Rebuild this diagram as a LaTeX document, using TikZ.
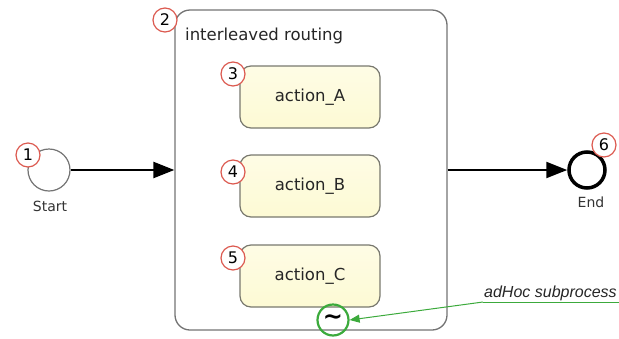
\documentclass[tikz,border=0pt]{standalone}
\usepackage{fontspec}
\setmainfont{DejaVu Sans}
\newfontfamily\arialish{Liberation Sans}
\usetikzlibrary{arrows.meta}
\definecolor{badgered}{RGB}{220,90,80}
\definecolor{boxfill}{RGB}{253,250,212}
\definecolor{boxedge}{RGB}{120,120,110}
\definecolor{subedge}{RGB}{115,115,115}
\definecolor{adgreen}{RGB}{60,170,60}
\tikzset{
  badge/.style={circle, draw=badgered, line width=1.2pt, fill=white, minimum size=24pt, inner sep=0pt, font=\fontsize{16}{16}\selectfont},
  task/.style={rounded corners=11pt, draw=boxedge, line width=1.2pt, top color=boxfill!60!white, bottom color=boxfill, minimum width=140pt, minimum height=62pt, font=\fontsize{16.5}{16.5}\selectfont, text=black!85},
  flow/.style={line width=2.3pt, -{Triangle[length=21pt,width=16pt]}},
  lbl/.style={font=\fontsize{14}{14}\selectfont, text=black!80},
}
\begin{document}
\begin{tikzpicture}[x=1pt,y=-1pt]
\useasboundingbox (0,0) rectangle (619,338);
% subprocess
\node[draw=subedge, line width=1.3pt, rounded corners=15pt, minimum width=272pt, minimum height=320pt, inner sep=0pt] (sub) at (311,170) {};
\node[anchor=west, inner sep=0pt, font=\fontsize{16.5}{16.5}\selectfont, text=black!85] (subl) at (185,36) {interleaved routing};
% start and end
\node[circle, draw=black!55, line width=1.2pt, minimum size=42pt, inner sep=0pt] (start) at (49,170) {};
\node[lbl] (startl) at (50,206) {Start};
\node[circle, draw=black, line width=3.5pt, minimum size=36pt, inner sep=0pt] (end) at (587,170) {};
\node[lbl] (endl) at (591,202) {End};
% tasks
\node[task] (a) at (310,97) {action\_A};
\node[task] (b) at (310,186) {action\_B};
\node[task] (c) at (310,276) {action\_C};
% flows
\draw[flow] (start) -- (sub.west |- start);
\draw[flow] (sub.east |- end) -- (end);
% adhoc marker
\node[circle, draw=adgreen, line width=2.2pt, minimum size=31pt, inner sep=0pt, font=\fontsize{24}{24}\bfseries\selectfont] (adh) at (333,320) {\char"007E};
\node[anchor=south west, inner sep=1pt, font=\arialish\itshape\fontsize{16}{16}\selectfont, text=black!85] (adl) at (483,302) {adHoc subprocess};
\coordinate (uend) at (619,302);
\draw[adgreen, line width=1pt] (uend) -- (adl.south west) coordinate (ustart);
\draw[adgreen, line width=1pt, -{Triangle[length=10pt,width=8pt]}] (ustart) -- (adh.east);
% badges
\node[badge] (b1) at (28,155) {1};
\node[badge] (b2) at (165,20) {2};
\node[badge] (b3) at (233,74) {3};
\node[badge] (b4) at (233,172) {4};
\node[badge] (b5) at (233,258) {5};
\node[badge] (b6) at (604,145) {6};
\end{tikzpicture}
\end{document}
